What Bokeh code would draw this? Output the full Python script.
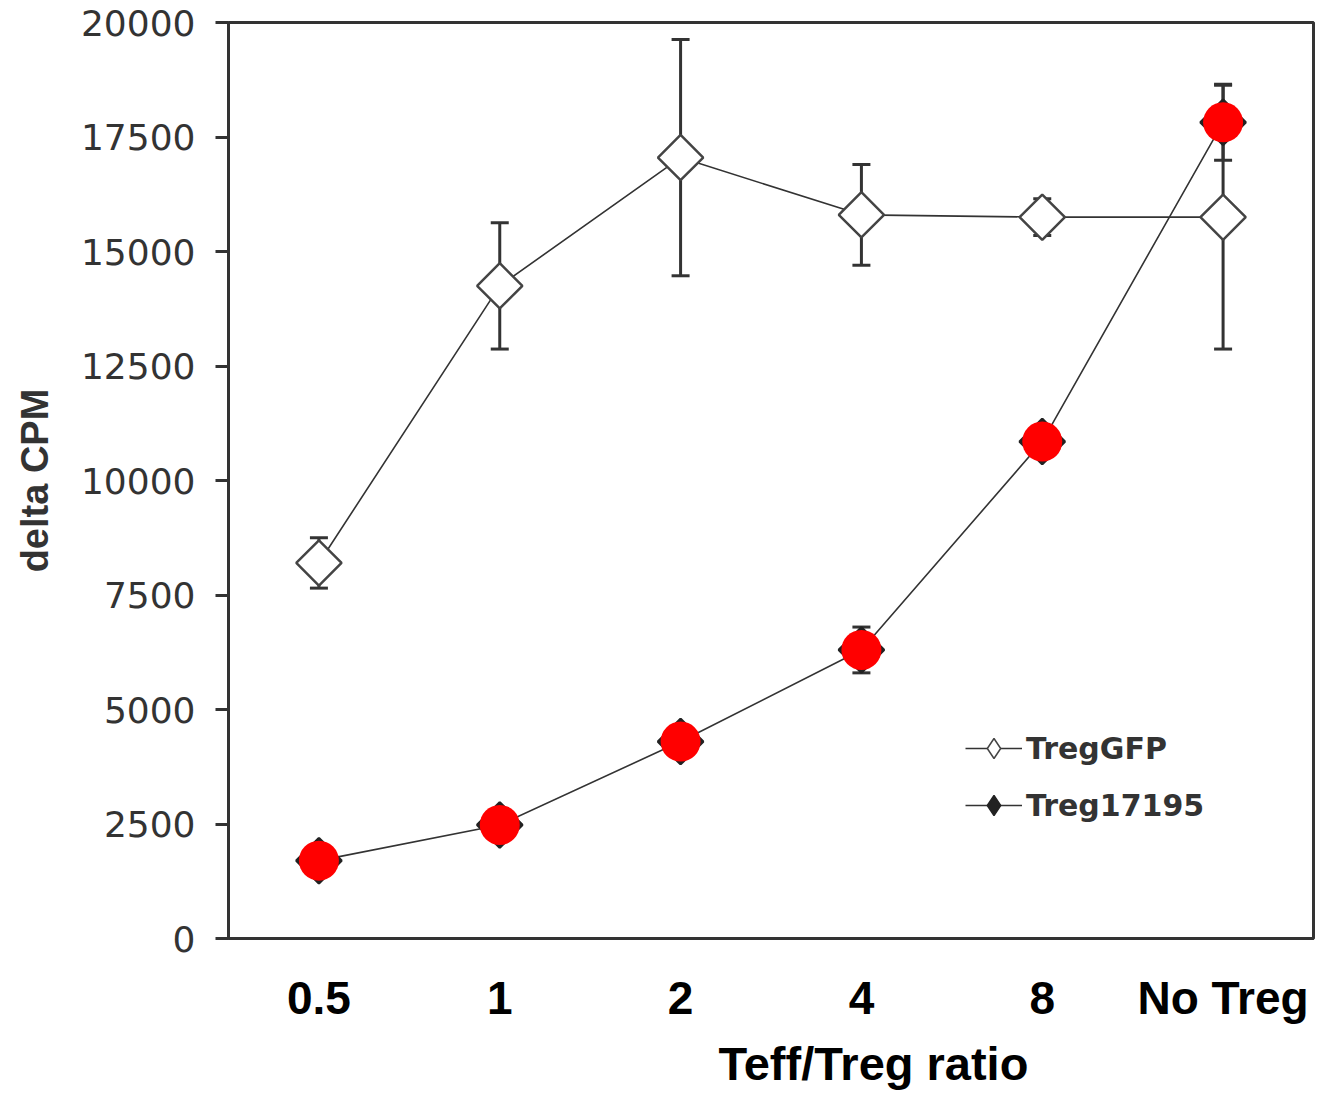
import math
from bokeh.plotting import figure
from bokeh.models import Range1d, FactorRange, FixedTicker, Legend, LegendItem, Title, ColumnDataSource
from bokeh.embed import file_html
from bokeh.resources import INLINE

# ---- data ----
ratios = ["0.5", "1", "2", "4", "8", "No Treg"]
gfp_mean = [8200, 14250, 17050, 15800, 15750, 15750]
gfp_err = [550, 1380, 2580, 1100, 400, 2880]
t17195_mean = [1700, 2480, 4300, 6300, 10850, 17820]
t17195_err = [250, 250, 300, 500, 300, 830]
y_ticks = [0, 2500, 5000, 7500, 10000, 12500, 15000, 17500, 20000]

DARK = "#333333"

p = figure(
    x_range=FactorRange(*ratios, range_padding=0),
    y_range=Range1d(0, 20000),
    frame_width=1085, frame_height=916,
    min_border_left=228, min_border_right=19, min_border_top=22, min_border_bottom=10,
    output_backend="svg", toolbar_location=None,
    background_fill_color="white", border_fill_color="white",
)
p.xgrid.visible = False
p.ygrid.visible = False
p.outline_line_color = DARK
p.outline_line_width = 3

# y axis
p.yaxis.ticker = FixedTicker(ticks=y_ticks)
p.yaxis.minor_tick_line_color = None
p.yaxis.major_tick_out = 13
p.yaxis.major_tick_in = 0
p.yaxis.major_tick_line_width = 3
p.yaxis.major_tick_line_color = DARK
p.yaxis.axis_line_width = 3
p.yaxis.axis_line_color = DARK
p.yaxis.major_label_text_font = "DejaVu Sans"
p.yaxis.major_label_text_font_size = "36px"
p.yaxis.major_label_text_color = DARK
p.yaxis.major_label_standoff = 20
p.yaxis.axis_label = "delta CPM"
p.yaxis.axis_label_text_font = "Liberation Sans"
p.yaxis.axis_label_text_font_size = "38px"
p.yaxis.axis_label_text_font_style = "bold"
p.yaxis.axis_label_text_color = DARK
p.yaxis.axis_label_standoff = 22

# x axis
p.xaxis.major_tick_line_color = None
p.xaxis.minor_tick_line_color = None
p.xaxis.major_tick_out = 0
p.xaxis.major_tick_in = 0
p.xaxis.axis_line_width = 3
p.xaxis.axis_line_color = DARK
p.xaxis.major_label_text_font = "Liberation Sans"
p.xaxis.major_label_text_font_size = "46px"
p.xaxis.major_label_text_font_style = "bold"
p.xaxis.major_label_text_color = "black"
p.xaxis.major_label_standoff = 33

p.add_layout(Title(text="Teff/Treg ratio", align="left", offset=490,
                   text_font="Liberation Sans", text_font_size="47px",
                   text_font_style="bold", text_color="black", standoff=16), "below")

gfp_lo = [m - e for m, e in zip(gfp_mean, gfp_err)]
gfp_hi = [m + e for m, e in zip(gfp_mean, gfp_err)]
t_lo = [m - e for m, e in zip(t17195_mean, t17195_err)]
t_hi = [m + e for m, e in zip(t17195_mean, t17195_err)]

src_g = ColumnDataSource(dict(x=ratios, y=gfp_mean, lo=gfp_lo, hi=gfp_hi))
src_t = ColumnDataSource(dict(x=ratios, y=t17195_mean, lo=t_lo, hi=t_hi))

# connecting lines
line_g = p.line("x", "y", source=src_g, line_color=DARK, line_width=1.6)
line_t = p.line("x", "y", source=src_t, line_color=DARK, line_width=1.6)

# error bars
for src in (src_g, src_t):
    p.segment(x0="x", y0="lo", x1="x", y1="hi", source=src, line_color=DARK, line_width=3)
    p.scatter("x", "lo", source=src, marker="dash", size=18, line_color=DARK, line_width=3)
    p.scatter("x", "hi", source=src, marker="dash", size=18, line_color=DARK, line_width=3)

# markers (rotated squares = diamonds)
p.scatter("x", "y", source=src_g, marker="square", angle=math.pi / 4, size=32,
          fill_color="white", line_color="#444444", line_width=2.5)
p.scatter("x", "y", source=src_t, marker="square", angle=math.pi / 4, size=32,
          fill_color="#222222", line_color="#222222", line_width=2.5)
p.scatter("x", "y", source=src_t, marker="circle", size=40,
          fill_color="#ff0000", line_color=None)

# legend-only marker renderers (diamond glyphs; NaN y so nothing is drawn in the plot)
nan = float("nan")
leg_g = p.scatter(x=ratios[:1], y=[nan], marker="diamond", fill_color="white",
                  line_color="#444444", line_width=1.5)
leg_t = p.scatter(x=ratios[:1], y=[nan], marker="diamond", fill_color="#222222",
                  line_color="#222222", line_width=1.5)

legend = Legend(items=[LegendItem(label="TregGFP", renderers=[line_g, leg_g]),
                       LegendItem(label="Treg17195", renderers=[line_t, leg_t])],
                location=(737, 108), orientation="vertical",
                padding=0, margin=0, spacing=7,
                glyph_width=57, glyph_height=50, label_standoff=4,
                label_text_font="DejaVu Sans", label_text_font_style="bold",
                label_text_font_size="30px", label_text_color=DARK,
                border_line_color=None, background_fill_alpha=0)
p.add_layout(legend, "center")

open("out.html", "w").write(file_html(p, INLINE))
